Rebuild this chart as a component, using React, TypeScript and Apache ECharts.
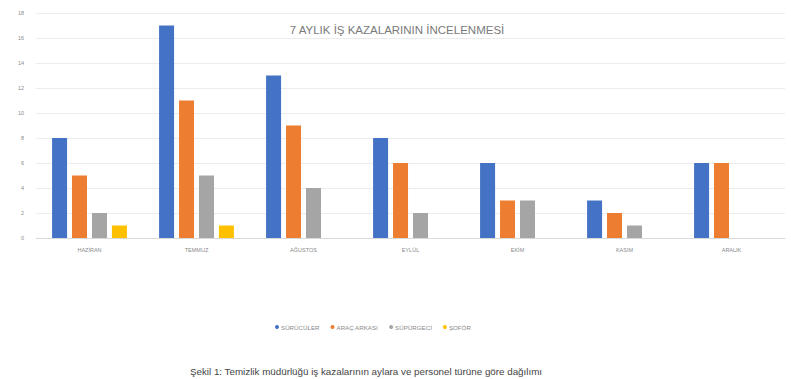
import React, { useEffect, useRef } from "react";
import * as echarts from "echarts";

const categories = ["HAZİRAN", "TEMMUZ", "AĞUSTOS", "EYLÜL", "EKİM", "KASIM", "ARALIK"];
const seriesNames = ["SÜRÜCÜLER", "ARAÇ ARKASI", "SÜPÜRGECİ", "ŞOFÖR"];
const series1 = [8, 17, 13, 8, 6, 3, 6];
const series2 = [5, 11, 9, 6, 3, 2, 6];
const series3 = [2, 5, 4, 2, 3, 1, 0];
const series4 = [1, 1, 0, 0, 0, 0, 0];
const colors = ["#4472C4", "#ED7D31", "#A5A5A5", "#FFC000"];
const titleText = "7 AYLIK İŞ KAZALARININ İNCELENMESİ";
const captionText = "Şekil 1: Temizlik müdürlüğü iş kazalarının aylara ve personel türüne göre dağılımı";

export default function App() {
  const ref = useRef<HTMLDivElement>(null);
  useEffect(() => {
    if (!ref.current) return;
    const chart = echarts.init(ref.current, undefined, { renderer: "svg" });
    const data = [series1, series2, series3, series4];
    chart.setOption({
      animation: false,
      backgroundColor: "#ffffff",
      textStyle: { fontFamily: "Liberation Sans" },
      title: [
        {
          text: titleText,
          left: 392,
          top: 19,
          textAlign: "center",
          textStyle: { fontSize: 11.5, fontWeight: "normal", color: "#7a7a7a", fontFamily: "Liberation Sans" },
        },
        {
          text: captionText,
          left: 361,
          top: 361,
          textAlign: "center",
          textStyle: { fontSize: 9.8, fontWeight: "normal", color: "#444444", fontFamily: "Liberation Sans" },
        },
      ],
      legend: {
        data: seriesNames,
        left: 270,
        top: 319,
        icon: "circle",
        itemWidth: 4,
        itemHeight: 4,
        itemGap: 11,
        textStyle: { fontSize: 6.2, color: "#8a8a8a", padding: [0, 0, 0, -3] },
      },
      grid: { left: 36, right: 6, top: 13, bottom: 141 },
      xAxis: {
        type: "category",
        data: categories,
        axisLine: { lineStyle: { color: "#d9d9d9" } },
        axisTick: { show: false },
        axisLabel: { fontSize: 5.5, color: "#8a8a8a", margin: 9 },
      },
      yAxis: {
        type: "value",
        min: 0,
        max: 18,
        interval: 2,
        axisLine: { show: false },
        axisTick: { show: false },
        axisLabel: { fontSize: 5.5, color: "#8a8a8a", margin: 12 },
        splitLine: { lineStyle: { color: "#ececec" } },
      },
      series: seriesNames.map((name, i) => ({
        name,
        type: "bar",
        data: data[i],
        barWidth: 15,
        barGap: "33%",
        itemStyle: { color: colors[i] },
      })),
    });
    return () => chart.dispose();
  }, []);
  return <div ref={ref} style={{ width: 791, height: 379, position: "absolute", left: 0, top: 0 }} />;
}
